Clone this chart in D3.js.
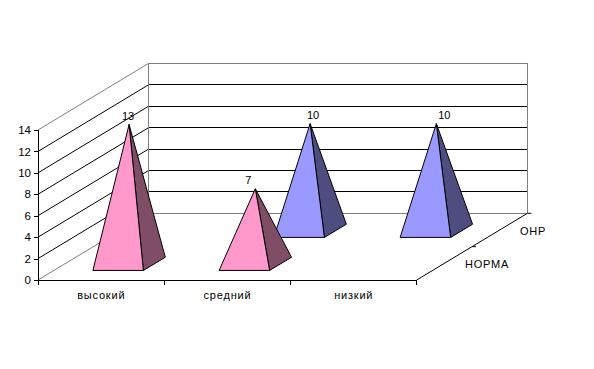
<!DOCTYPE html>
<html><head><meta charset="utf-8">
<script src="https://cdn.jsdelivr.net/npm/d3@7"></script>
<style>
html,body{margin:0;padding:0;background:#fff}
svg{display:block}
text{font-family:"Liberation Sans",Arial,sans-serif;font-size:11px;fill:#000}
</style></head><body><svg id="c" width="594" height="369"></svg>
<script>
const categories = ["высокий", "средний", "низкий"];
const seriesNames = ["НОРМА", "ОНР"];
const normaValues = [13, 7, null];
const onrValues = [null, 10, 10];
const yTicks = [0, 2, 4, 6, 8, 10, 12, 14];

const colors = {
  "НОРМА": { front: "#FF99CC", side: "#804D66" },
  "ОНР":   { front: "#9999FF", side: "#4D4D80" }
};
const labelShift = { "НОРМА": [-1, -7, 0], "ОНР": [0, 3, 8] };

const svg = d3.select("#c");
const x = d3.scaleBand().domain(categories).range([38, 416.7]).paddingInner(0.6).paddingOuter(0.3).align(0.515);
const y = d3.scaleLinear().domain([0, 14]).range([280, 130]);
const depth = d3.scaleBand().domain(seriesNames).range([0, 0.98]).paddingInner(0.6).paddingOuter(0.29);
const depthX = d3.scaleLinear().domain([0, 1]).range([0, 110.7]);
const depthY = d3.scaleLinear().domain([0, 1]).range([0, -66.7]);
const px = (xv, d) => xv + depthX(d);
const py = (v, d) => y(v) + depthY(d);

const [x0, x1] = x.range();
const line = (a, b, c, e, stroke) => svg.append("line")
  .attr("x1", a).attr("y1", b).attr("x2", c).attr("y2", e)
  .attr("stroke", stroke).attr("stroke-width", 1);
const crisp = (s) => s.attr("shape-rendering", "crispEdges");

// Walls: gridlines along the side wall and the back wall
yTicks.forEach(t => {
  const edge = t === 0 || t === 14;
  const col = edge ? "#808080" : "#000";
  line(x0, y(t), px(x0, 1), py(t, 1), col);
  crisp(line(px(x0, 1), py(t, 1), px(x1, 1), py(t, 1), col));
});
crisp(line(px(x0, 1), py(0, 1), px(x0, 1), py(14, 1), "#808080"));
crisp(line(px(x1, 1), py(0, 1), px(x1, 1), py(14, 1), "#808080"));

// Floor edge with the depth axis
line(x1, y(0), px(x1, 1), py(0, 1), "#000");
seriesNames.forEach((s, i) => {
  const d = i === 0 ? 0.5 : 1;
  line(px(x1, d), py(0, d), px(x1, d) + 4, py(0, d), "#000");
});

// Value axis
const yAxis = d3.axisLeft(y).tickValues(yTicks).tickSize(4).tickPadding(3).tickFormat(d3.format("d"));
const gy = svg.append("g").attr("transform", `translate(${x0},0)`).call(yAxis);
gy.select(".domain").attr("stroke", "#000").attr("d", `M0,${y(14)}V${y(0)}`);
gy.selectAll("line").attr("stroke", "#000");
gy.selectAll("text").style("font-family", '"Liberation Sans",Arial,sans-serif').style("font-size", "11.5px");
crisp(gy.selectAll("path,line"));

// Category axis
const gx = svg.append("g").attr("transform", `translate(0,${y(0)})`)
  .call(d3.axisBottom(x).tickSize(0).tickPadding(11));
gx.select(".domain").attr("stroke", "#000").attr("d", `M${x0},0H${x1}`);
gx.selectAll("text").style("font-family", '"Liberation Sans",Arial,sans-serif').style("font-size", "11px")
  .style("letter-spacing", "0.8px").attr("dx", -1);
crisp(gx.selectAll("path"));
const step = x.step();
categories.concat("end").forEach((c, i) => {
  crisp(line(x0 + i * step, y(0), x0 + i * step, y(0) + 5, "#000"));
});

// Pyramids, back series first
const seriesData = { "НОРМА": normaValues, "ОНР": onrValues };
["ОНР", "НОРМА"].forEach(s => {
  const d0 = depth(s), d1 = d0 + depth.bandwidth(), dm = (d0 + d1) / 2;
  seriesData[s].forEach((v, i) => {
    if (v === null) return;
    const c = categories[i];
    const l = x(c), r = l + x.bandwidth(), m = l + x.bandwidth() / 2;
    const fl = [px(l, d0), py(0, d0)], fr = [px(r, d0), py(0, d0)], br = [px(r, d1), py(0, d1)];
    const apex = [px(m, dm), py(v, dm)];
    const poly = (pts, fill) => svg.append("polygon")
      .attr("points", pts.map(p => p.join(",")).join(" "))
      .attr("fill", fill).attr("stroke", "#000").attr("stroke-width", 1).attr("stroke-linejoin", "round");
    poly([apex, fr, br], colors[s].side);
    poly([apex, fl, fr], colors[s].front);
    svg.append("text").attr("x", apex[0] + labelShift[s][i]).attr("y", apex[1] - 4.5)
      .attr("text-anchor", "middle").text(v);
  });
});

// Depth axis labels
const depthLabelPos = { "НОРМА": [465, 268], "ОНР": [520, 235] };
seriesNames.forEach(s => {
  svg.append("text").attr("x", depthLabelPos[s][0]).attr("y", depthLabelPos[s][1])
    .style("letter-spacing", "0.8px").text(s);
});
</script></body></html>
